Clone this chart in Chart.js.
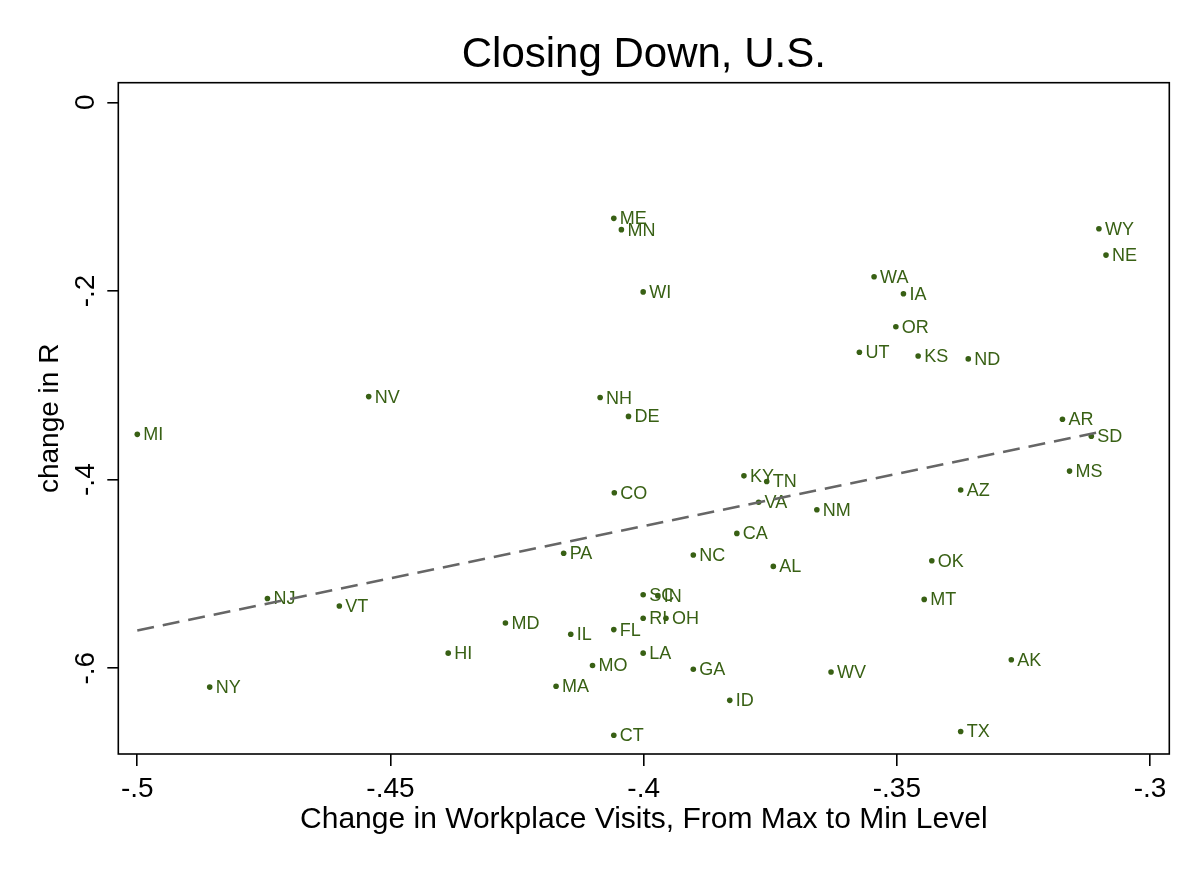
<!DOCTYPE html>
<html>
<head>
<meta charset="utf-8">
<title>Closing Down, U.S.</title>
<script src="https://cdn.jsdelivr.net/npm/chart.js@4.4.1/dist/chart.umd.min.js"></script>
<style>
  html, body { margin: 0; padding: 0; background: #fff; }
  #chart { display: block; }
</style>
</head>
<body>
<canvas id="chart" width="1200" height="873"></canvas>
<script>
// state labels and values
const STATES = ['MI','NV','NH','DE','ME','MN','WI','WA','IA','OR',
                'UT','KS','ND','WY','NE','AR','SD','MS','AZ','KY',
                'TN','CO','VA','NM','CA','PA','NC','AL','OK','MT',
                'SC','IN','RI','OH','FL','IL','LA','MO','GA','WV',
                'AK','MA','ID','CT','TX','NJ','VT','NY','HI','MD'];
const WORKPLACE_CHANGE = [-0.5000,-0.4543,-0.4086,-0.4030,-0.4059,-0.4044,-0.4001,-0.3545,-0.3487,-0.3502,
                          -0.3574,-0.3458,-0.3359,-0.3101,-0.3087,-0.3173,-0.3116,-0.3159,-0.3374,-0.3802,
                          -0.3757,-0.4058,-0.3773,-0.3658,-0.3816,-0.4158,-0.3902,-0.3744,-0.3431,-0.3446,
                          -0.4001,-0.3972,-0.4001,-0.3956,-0.4059,-0.4144,-0.4001,-0.4101,-0.3902,-0.3630,
                          -0.3274,-0.4173,-0.3830,-0.4059,-0.3374,-0.4743,-0.4601,-0.4857,-0.4386,-0.4273];
const R_CHANGE = [-0.352,-0.312,-0.313,-0.333,-0.123,-0.135,-0.201,-0.185,-0.203,-0.238,
                  -0.265,-0.269,-0.272,-0.134,-0.162,-0.336,-0.354,-0.391,-0.411,-0.396,
                  -0.402,-0.414,-0.424,-0.432,-0.457,-0.478,-0.480,-0.492,-0.486,-0.527,
                  -0.522,-0.523,-0.547,-0.547,-0.559,-0.564,-0.584,-0.597,-0.601,-0.604,
                  -0.591,-0.619,-0.634,-0.671,-0.667,-0.526,-0.534,-0.620,-0.584,-0.552];

// fitted line ends
const FIT_X = [-0.5, -0.3095];
const FIT_Y = [-0.560, -0.349];

const X_TICKS = [-0.5, -0.45, -0.4, -0.35, -0.3];
const X_TICK_LABELS = ['-.5', '-.45', '-.4', '-.35', '-.3'];
const Y_TICKS = [0, -0.2, -0.4, -0.6];
const Y_TICK_LABELS = ['0', '-.2', '-.4', '-.6'];

const TITLE = 'Closing Down, U.S.';
const FONT = "'Liberation Sans', Arial, Helvetica, sans-serif";
const GREEN = '#386014';

const pointData = STATES.map((s, i) => ({ x: WORKPLACE_CHANGE[i], y: R_CHANGE[i] }));
const fitData = FIT_X.map((x, i) => ({ x, y: FIT_Y[i] }));

// marker labels, frame, title and rotated tick labels (Stata look)
const stataBits = {
  id: 'stataBits',
  beforeDatasetsDraw(chart) {
    const ctx = chart.ctx;
    const meta = chart.getDatasetMeta(1);
    ctx.save();
    ctx.font = '18px ' + FONT;
    ctx.fillStyle = GREEN;
    ctx.textAlign = 'left';
    ctx.textBaseline = 'middle';
    meta.data.forEach((pt, i) => ctx.fillText(STATES[i], pt.x + 6, pt.y + 1));
    ctx.restore();
  },
  afterDraw(chart) {
    const { ctx, chartArea: a, scales: { x, y } } = chart;
    ctx.save();
    ctx.strokeStyle = '#000';
    ctx.lineWidth = 1.6;
    ctx.strokeRect(a.left, a.top, a.right - a.left, a.bottom - a.top);

    ctx.fillStyle = '#000';
    ctx.textAlign = 'center';
    ctx.textBaseline = 'alphabetic';
    // title centred over the plot region
    ctx.font = '42px ' + FONT;
    ctx.fillText(TITLE, (a.left + a.right) / 2, 67);

    ctx.font = '28px ' + FONT;
    X_TICKS.forEach((v, i) => ctx.fillText(X_TICK_LABELS[i], x.getPixelForValue(v), 797));
    Y_TICKS.forEach((v, i) => {
      ctx.save();
      ctx.translate(93.5, y.getPixelForValue(v));
      ctx.rotate(-Math.PI / 2);
      ctx.fillText(Y_TICK_LABELS[i], 0, 0);
      ctx.restore();
    });
    ctx.restore();
  }
};

new Chart(document.getElementById('chart'), {
  type: 'scatter',
  data: {
    datasets: [
      {
        type: 'line',
        label: 'Fitted values',
        data: fitData,
        borderColor: '#666666',
        borderWidth: 2.6,
        borderDash: [17, 9],
        pointRadius: 0,
        fill: false,
        tension: 0
      },
      {
        label: 'change in R',
        data: pointData,
        backgroundColor: GREEN,
        borderWidth: 0,
        pointRadius: 2.8
      }
    ]
  },
  options: {
    responsive: false,
    animation: false,
    layout: { padding: { left: 0, right: 30.7, top: 82.7, bottom: 0 } },
    plugins: {
      legend: { display: false },
      tooltip: { enabled: false },
      title: { display: false }
    },
    scales: {
      x: {
        type: 'linear',
        min: -0.50375,
        max: -0.2962,
        afterBuildTicks: s => { s.ticks = X_TICKS.map(v => ({ value: v })); },
        afterFit: s => { s.height = 119; },
        ticks: { display: false },
        grid: { display: true, drawOnChartArea: false, drawTicks: true, tickLength: 12, color: '#000', lineWidth: 1.6 },
        border: { display: false },
        title: {
          display: true,
          text: 'Change in Workplace Visits, From Max to Min Level',
          color: '#000',
          font: { family: FONT, size: 30, weight: 'normal' },
          padding: { top: 0, bottom: 35.3 }
        }
      },
      y: {
        type: 'linear',
        min: -0.6909,
        max: 0.0208,
        afterBuildTicks: s => { s.ticks = Y_TICKS.map(v => ({ value: v })); },
        afterFit: s => { s.width = 118.3; },
        ticks: { display: false },
        grid: { display: true, drawOnChartArea: false, drawTicks: true, tickLength: 11, color: '#000', lineWidth: 1.6 },
        border: { display: false },
        title: {
          display: true,
          text: 'change in R',
          color: '#000',
          font: { family: FONT, size: 28, weight: 'normal' },
          padding: { top: 33.5, bottom: 0 }
        }
      }
    }
  },
  plugins: [stataBits]
});
</script>
</body>
</html>
